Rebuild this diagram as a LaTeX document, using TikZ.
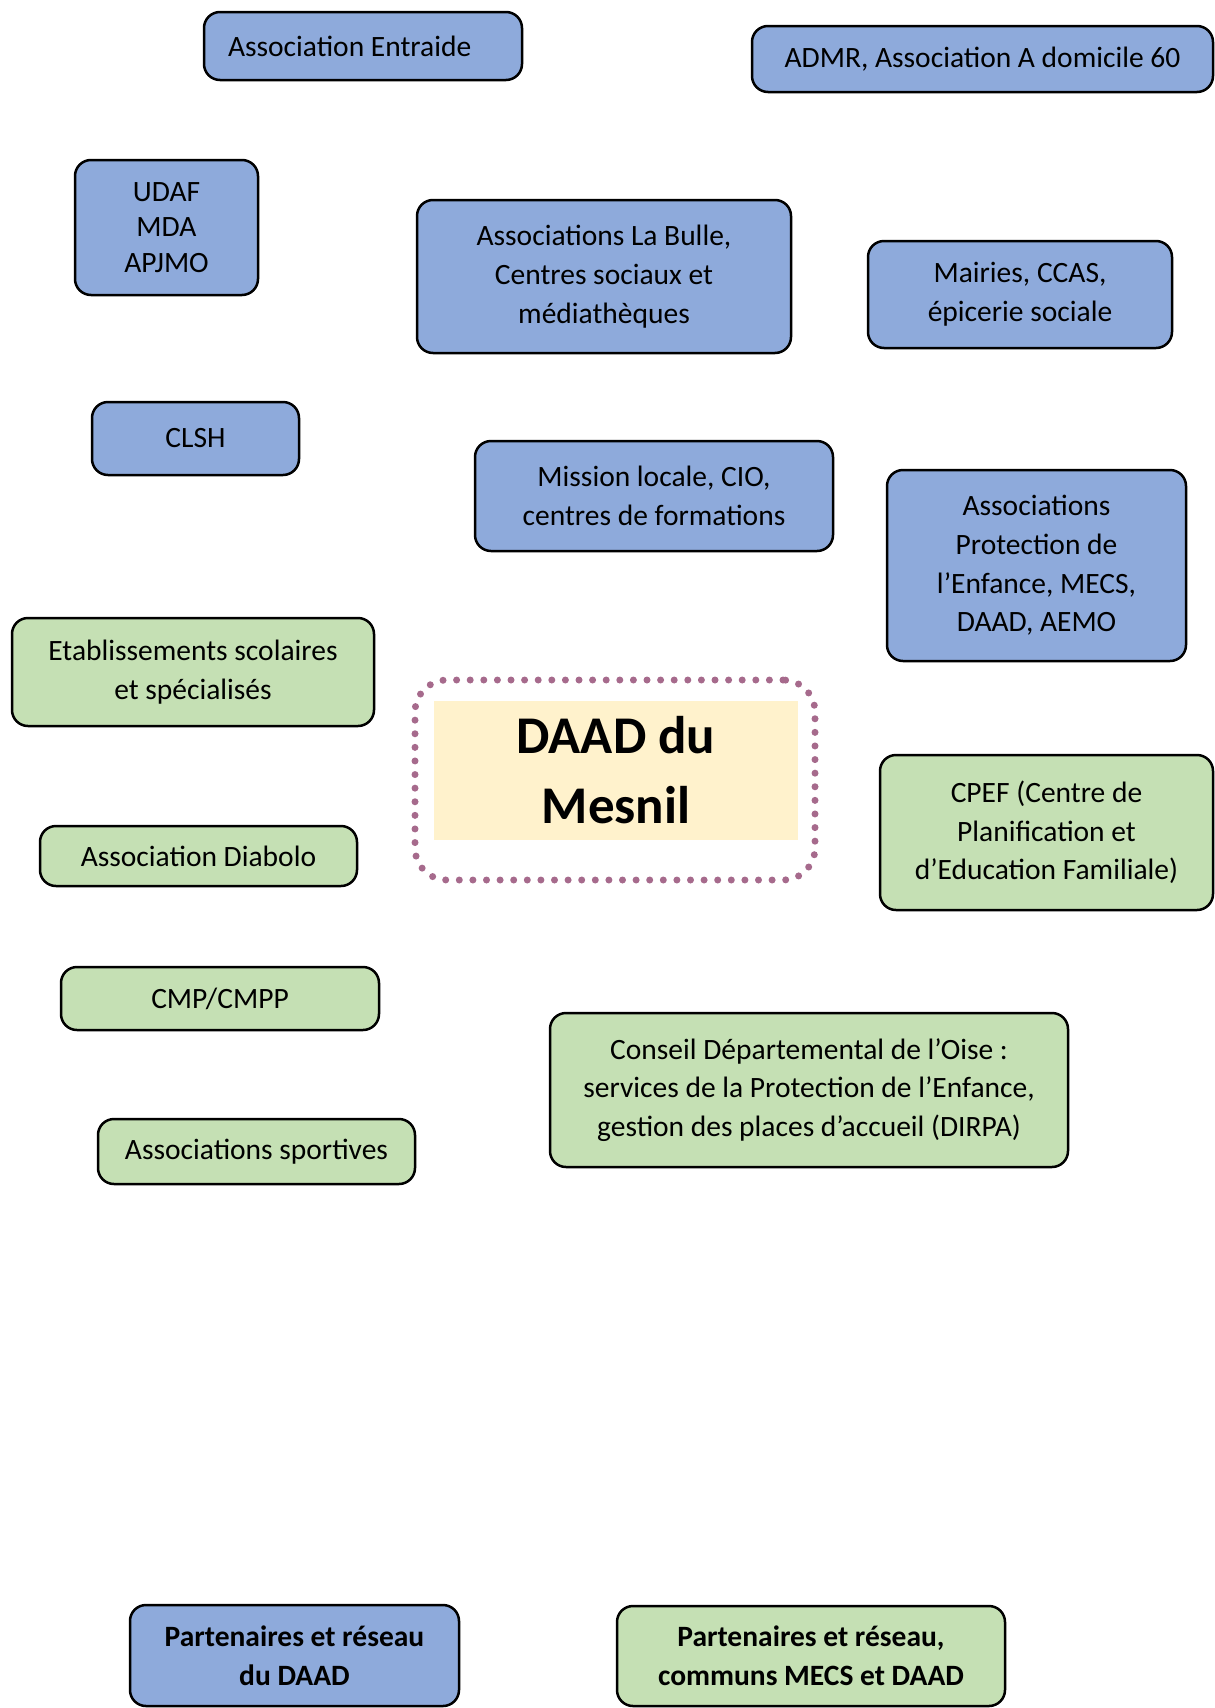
\documentclass[tikz,border=0pt]{standalone}
\usepackage{fontspec}
\setmainfont{Carlito}
\usetikzlibrary{positioning}
\definecolor{partblue}{HTML}{8EAADB}
\definecolor{partgreen}{HTML}{C5E0B4}
\definecolor{daadcream}{HTML}{FFF2CC}
\definecolor{daadplum}{HTML}{A66A8C}

\begin{document}
\begin{tikzpicture}[x=1pt,y=-1pt,
  box/.style={draw=black, line width=2.5pt, rounded corners=16pt, align=center,
    inner sep=0pt, font=\fontsize{29.5}{38.7}\selectfont},
  daadonly/.style={box, fill=partblue},
  shared/.style={box, fill=partgreen},
  keybox/.style={font=\fontsize{29.5}{38.7}\selectfont\bfseries}]
  \useasboundingbox (0,0) rectangle (1215,1708);
  % partners of the DAAD only
  \node[daadonly, align=flush left, text width=270pt, inner xsep=24pt, minimum height=68pt] (entraide) at (363,46) {Association Entraide};
  \node[daadonly, minimum width=461pt, minimum height=66pt] (admr) at (982.5,59) {ADMR, Association A domicile 60};
  \node[daadonly, minimum width=183pt, minimum height=135pt,
    font=\fontsize{29.5}{35.5}\selectfont] (udaf) at (166.5,227.5) {UDAF\\MDA\\APJMO};
  \node[daadonly, minimum width=374pt, minimum height=153pt] (bulle) at (604,276.5) {Associations La Bulle,\\Centres sociaux et\\médiathèques};
  \node[daadonly, minimum width=304pt, minimum height=107pt] (mairies) at (1020,294.5) {Mairies, CCAS,\\épicerie sociale};
  \node[daadonly, minimum width=207pt, minimum height=73pt] (clsh) at (195.5,438.5) {CLSH};
  \node[daadonly, minimum width=358pt, minimum height=110pt] (mission) at (654,496) {Mission locale, CIO,\\centres de formations};
  \node[daadonly, minimum width=299pt, minimum height=191pt] (protection) at (1036.5,565.5) {Associations\\Protection de\\l’Enfance, MECS,\\DAAD, AEMO};
  % shared partners
  \node[shared, minimum width=362pt, minimum height=108pt] (etab) at (193,672) {Etablissements scolaires\\et spécialisés};
  \node[shared, minimum width=333pt, minimum height=155pt] (cpef) at (1046.5,832.5) {CPEF (Centre de\\Planification et\\d’Education Familiale)};
  \node[shared, minimum width=317pt, minimum height=60pt] (diabolo) at (198.5,856) {Association Diabolo};
  \node[shared, minimum width=318pt, minimum height=63pt] (cmp) at (220,998.5) {CMP/CMPP};
  \node[shared, minimum width=518pt, minimum height=154pt] (conseil) at (809,1090) {Conseil Départemental de l’Oise :\\services de la Protection de l’Enfance,\\gestion des places d’accueil (DIRPA)};
  \node[shared, minimum width=317pt, minimum height=65pt] (sportives) at (256.5,1151.5) {Associations sportives};
  % centre
  \node[fill=daadcream, minimum width=364pt, minimum height=139pt, align=center,
    font=\fontsize{53}{70}\selectfont\bfseries] (daad) at (616,770.5) {DAAD du\\Mesnil};
  \node[draw=daadplum, line width=7pt, line cap=round, dash pattern=on 0pt off 13.6pt,
    rounded corners=32pt, minimum width=400pt, minimum height=200pt] (daadring) at (615,780) {};
  % key
  \node[daadonly, keybox, minimum width=329pt, minimum height=101pt] (keyblue) at (294.5,1655.5) {Partenaires et réseau\\du DAAD};
  \node[shared, keybox, minimum width=388pt, minimum height=100pt] (keygreen) at (811,1656) {Partenaires et réseau,\\communs MECS et DAAD};
\end{tikzpicture}
\end{document}
